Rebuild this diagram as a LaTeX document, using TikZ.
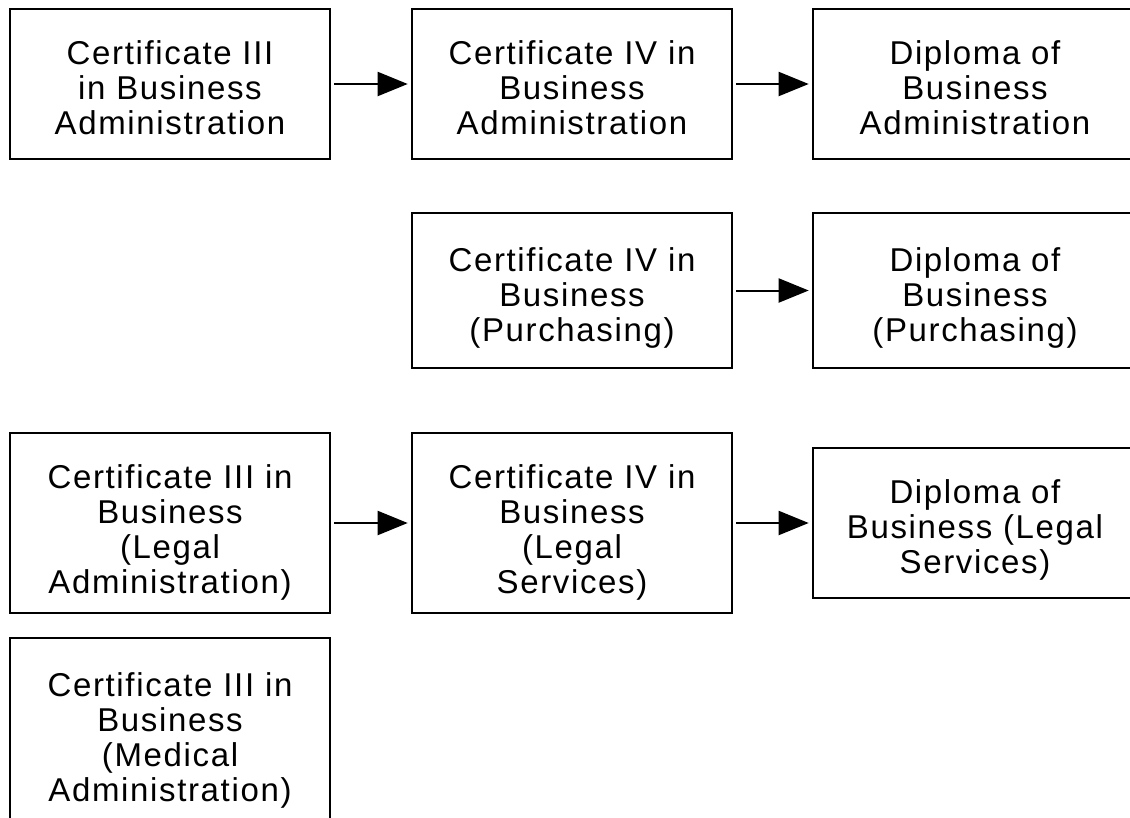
\documentclass[tikz,border=0pt]{standalone}
\usepackage{fontspec}
\setmainfont{Liberation Sans}[LetterSpace=5]
\usetikzlibrary{arrows.meta}
\begin{document}
\begin{tikzpicture}[x=1pt,y=-1pt,
  box/.style={draw, line width=2.6pt, inner sep=0pt,
    minimum width=320pt, minimum height=150pt},
  txt/.style={align=center, inner sep=0pt,
    font=\fontsize{33}{35}\selectfont},
  conn/.style={line width=2pt, -{Triangle[length=30pt,width=24pt]},
    shorten <=3pt, shorten >=3pt}]
\useasboundingbox (0,0) rectangle (1130,817);
\fill[white] (0,0) rectangle (1130,817);
\clip (0,0) rectangle (1130,817);

\node[box] (a1) at (170,84) {};
\node[box] (b1) at (572,84) {};
\node[box, minimum width=324pt] (c1) at (975,84) {};
\node[box, minimum height=155pt] (b2) at (572,290.5) {};
\node[box, minimum height=155pt, minimum width=324pt] (c2) at (975,290.5) {};
\node[box, minimum height=180pt] (a3) at (170,523) {};
\node[box, minimum height=180pt] (b3) at (572,523) {};
\node[box, minimum width=324pt] (c3) at (975,523) {};
\node[box, minimum height=200pt] (a4) at (170,738) {};

\node[txt] (a1t) at ([yshift=-4pt]a1.center) {Certificate III\\in Business\\Administration};
\node[txt] (b1t) at ([yshift=-4pt]b1.center) {Certificate IV in\\Business\\Administration};
\node[txt] (c1t) at ([yshift=-4pt]c1.center) {Diploma of\\Business\\Administration};
\node[txt] (b2t) at ([yshift=-7pt]b2.center) {Certificate IV in\\Business\\(Purchasing)};
\node[txt] (c2t) at ([yshift=-7pt]c2.center) {Diploma of\\Business\\(Purchasing)};
\node[txt] (a3t) at ([yshift=-9pt]a3.center) {Certificate III in\\Business\\(Legal\\Administration)};
\node[txt] (b3t) at ([yshift=-9pt]b3.center) {Certificate IV in\\Business\\(Legal\\Services)};
\node[txt] (c3t) at ([yshift=-7pt]c3.center) {Diploma of\\Business (Legal\\Services)};
\node[txt] (a4t) at ([yshift=-2pt]a4.center) {Certificate III in\\Business\\(Medical\\Administration)};

\draw[conn] (a1) -- (b1);
\draw[conn] (b1) -- (c1);
\draw[conn] (b2) -- (c2);
\draw[conn] (a3) -- (b3);
\draw[conn] (b3) -- (c3);
\end{tikzpicture}
\end{document}
